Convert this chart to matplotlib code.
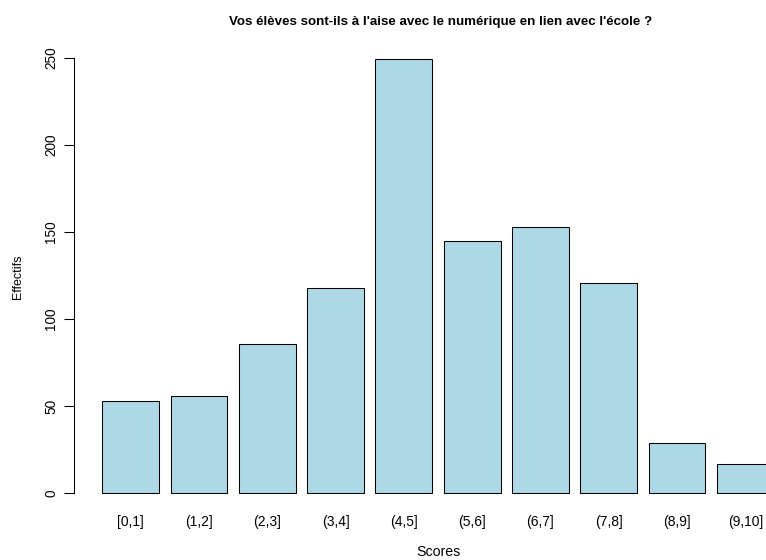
import matplotlib
matplotlib.use("Agg")
import matplotlib.pyplot as plt
import numpy as np

categories = ["[0,1]", "(1,2]", "(2,3]", "(3,4]", "(4,5]", "(5,6]", "(6,7]", "(7,8]", "(8,9]", "(9,10]"]
counts = [53, 56, 86, 118, 249, 145, 153, 121, 29, 17]
yticks = [0, 50, 100, 150, 200, 250]
title = "Vos élèves sont-ils à l'aise avec le numérique en lien avec l'école ?"

plt.rcParams['font.family'] = ['Liberation Sans', 'DejaVu Sans']

fig = plt.figure(figsize=(7.66, 5.6), dpi=100)
ax = fig.add_axes([0.0984, 0.088, 0.9468, 0.8368])

n = len(counts)
lefts = 0.2 + 1.2 * np.arange(n)
centers = lefts + 0.5
ax.bar(lefts, counts, width=1.0, align='edge', color='#ADD8E6',
       edgecolor='black', linewidth=0.75)

ax.set_xlim(-0.272, 12.472)
ax.set_ylim(-0.04 * max(counts), max(counts) * 1.04)

for s in ['top', 'right', 'bottom']:
    ax.spines[s].set_visible(False)
ax.spines['left'].set_bounds(0, 250)
ax.spines['left'].set_linewidth(0.75)
ax.spines['left'].set_position(('outward', 1))

ax.set_yticks(yticks)
ax.set_yticklabels([str(v) for v in yticks], rotation=90, va='center', fontsize=9.8)
ax.tick_params(axis='y', length=7.2, width=0.75, pad=4)

ax.set_xticks(centers)
ax.set_xticklabels(categories, fontsize=10)
ax.tick_params(axis='x', length=0, pad=3)

ax.set_ylabel("Effectifs", fontsize=9, labelpad=15)
ax.set_xlabel("Scores", fontsize=10.2, labelpad=11.5)
fig.text(0.5746, 0.961, title, ha='center', va='center', fontsize=9.6, fontweight='bold')

fig.savefig("out.png", dpi=100)
